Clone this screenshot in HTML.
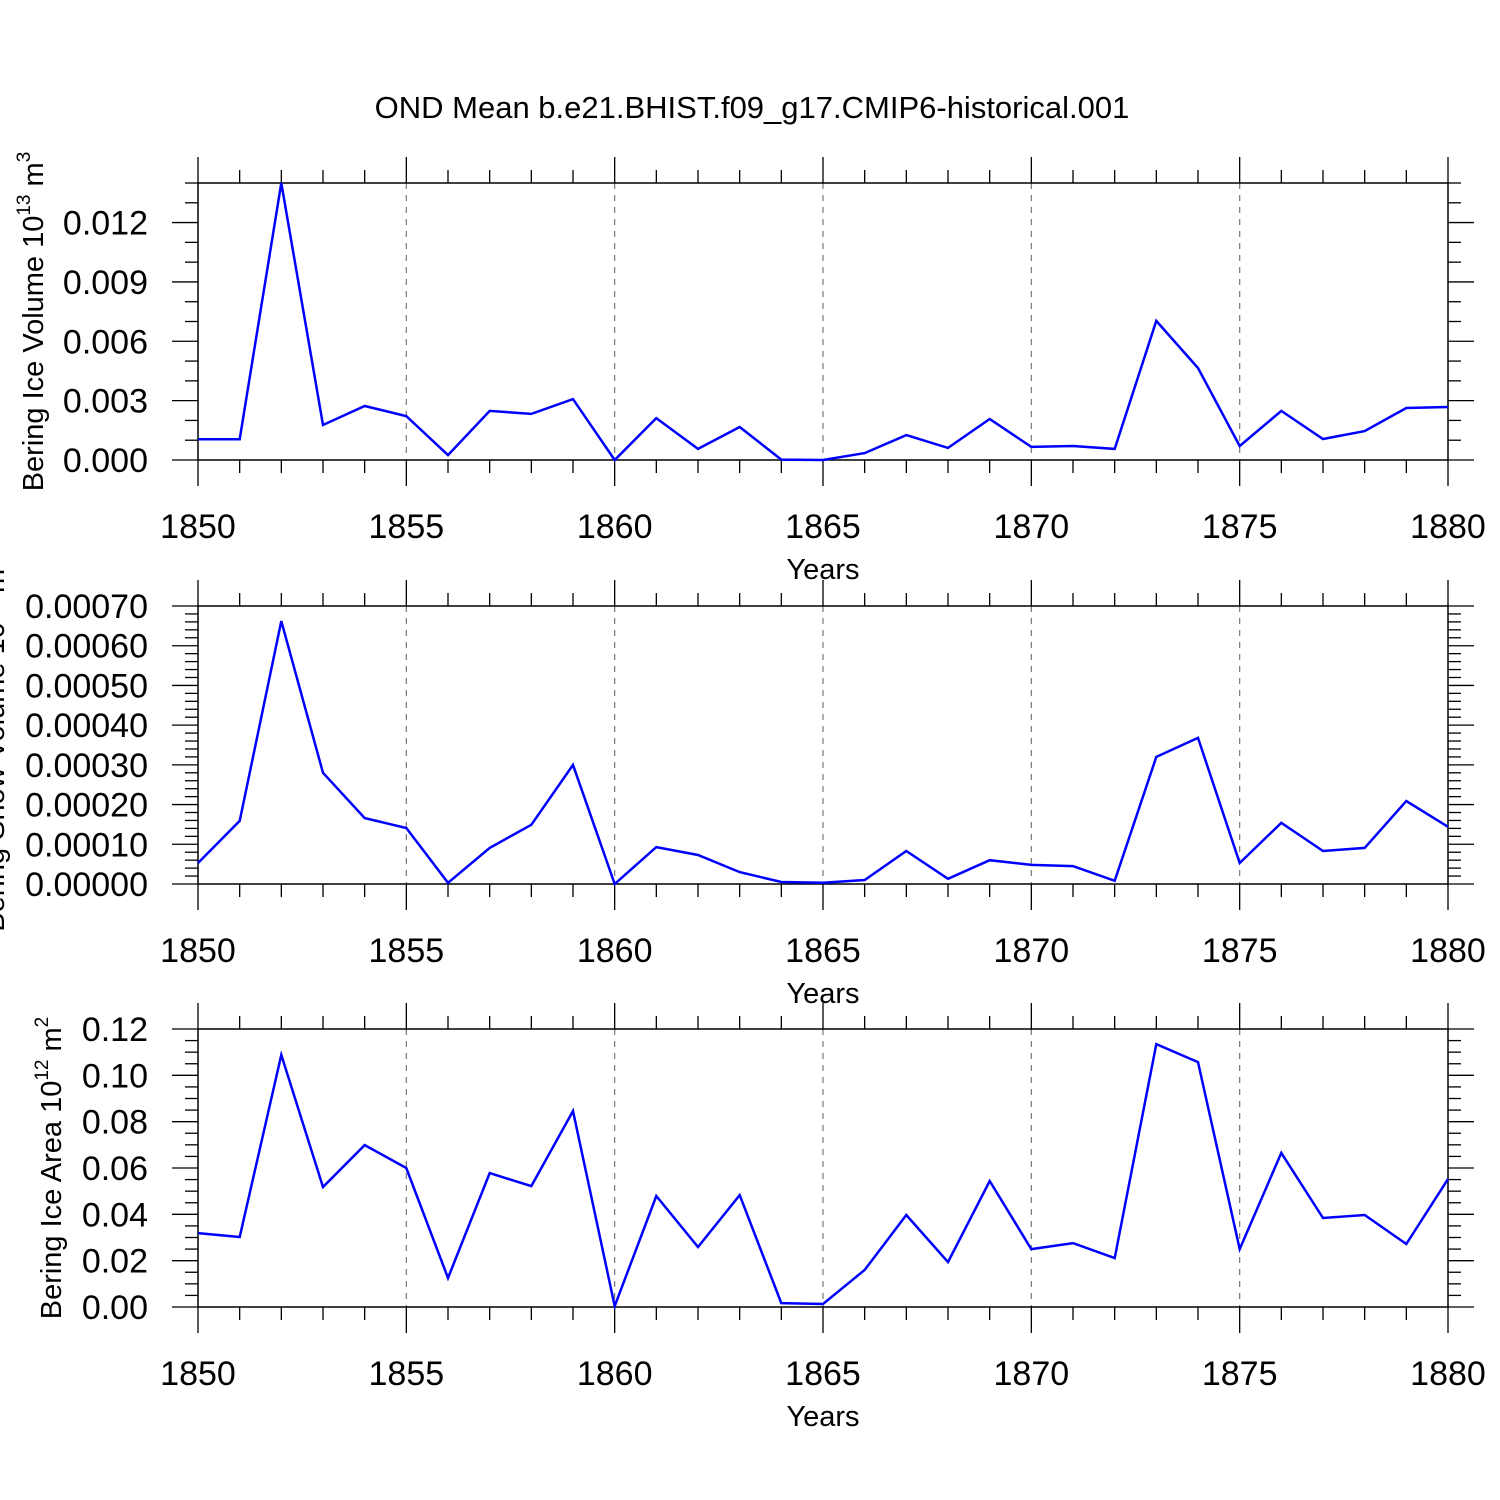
<!DOCTYPE html>
<html><head><meta charset="utf-8"><style>
html,body{margin:0;padding:0;background:#fff}
svg{display:block}
text{font-family:"Liberation Sans",sans-serif;fill:#000}
</style></head><body>
<svg id="c" width="1500" height="1500" viewBox="0 0 1500 1500">
<text x="752" y="118" font-size="31" text-anchor="middle">OND Mean b.e21.BHIST.f09_g17.CMIP6-historical.001</text>
</svg>
<script>
const years = [1850,1851,1852,1853,1854,1855,1856,1857,1858,1859,1860,1861,1862,1863,1864,1865,1866,1867,1868,1869,1870,1871,1872,1873,1874,1875,1876,1877,1878,1879,1880];
const iceVolume = [0.00105,0.00105,0.0140,0.00177,0.00273,0.00222,0.00025,0.00248,0.00233,0.00308,0.0,0.00212,0.00056,0.00167,0.00002,0.0,0.00035,0.00126,0.00061,0.00207,0.00066,0.00071,0.00056,0.00703,0.00465,0.00071,0.00248,0.00106,0.00146,0.00263,0.00268];
const snowVolume = [0.000053,0.000159,0.000662,0.00028,0.000166,0.000141,0.000003,0.000091,0.000149,0.0003,0.0,0.000093,0.000073,0.00003,0.000005,0.000003,0.00001,0.000083,0.000013,0.00006,0.000048,0.000045,0.000008,0.00032,0.000368,0.000053,0.000154,0.000083,0.000091,0.000209,0.000144];
const iceArea = [0.0319,0.0302,0.1088,0.0518,0.0699,0.06,0.0125,0.0578,0.0522,0.0846,0.0004,0.0479,0.0259,0.0483,0.0017,0.0013,0.016,0.0397,0.0194,0.0544,0.025,0.0276,0.0211,0.1135,0.1057,0.025,0.0665,0.0384,0.0397,0.0272,0.0552];
const xTickLabels = ["1850","1855","1860","1865","1870","1875","1880"];
const volTicks = ["0.000","0.003","0.006","0.009","0.012"];
const snowTicks = ["0.00000","0.00010","0.00020","0.00030","0.00040","0.00050","0.00060","0.00070"];
const areaTicks = ["0.00","0.02","0.04","0.06","0.08","0.10","0.12"];

const NS="http://www.w3.org/2000/svg";
const svg=document.getElementById('c');
function mk(tag,attrs,parent){const e=document.createElementNS(NS,tag);for(const k in attrs)e.setAttribute(k,attrs[k]);(parent||svg).appendChild(e);return e;}
const X0=198,X1=1448,XMIN=1850,XMAX=1880;
function xs(v){return X0+(v-XMIN)/(XMAX-XMIN)*(X1-X0);}

function panel(name,top,bot,ymax,ticks,minorStep,data,label,sup1,sup2,labelX){
  const g=mk('g',{});
  
  
  const ys=v=>bot-(v/ymax)*(bot-top);
  for(const t of xTickLabels){const v=+t;if(v===XMIN||v===XMAX)continue;
    const l=mk('line',{x1:xs(v),x2:xs(v),y1:top,y2:bot,stroke:'#777','stroke-width':1.2,'stroke-dasharray':'6,6'},g);
    }
  for(let y=XMIN;y<=XMAX;y++){const maj=(y%5===0);const L=maj?26:13;
    mk('line',{x1:xs(y),x2:xs(y),y1:top-L,y2:top,stroke:'#000','stroke-width':1.3},g);
    mk('line',{x1:xs(y),x2:xs(y),y1:bot,y2:bot+L,stroke:'#000','stroke-width':1.3},g);}
  const ymajStep=(+ticks[1]);
  const nMinor=Math.round(ymax/minorStep);
  for(let i=0;i<=nMinor;i++){const v=i*minorStep;const maj=Math.abs(v/ymajStep-Math.round(v/ymajStep))<1e-6;const L=maj?26:13;const y=ys(v);
    mk('line',{x1:X0-L,x2:X0,y1:y,y2:y,stroke:'#000','stroke-width':1.3},g);
    mk('line',{x1:X1,x2:X1+L,y1:y,y2:y,stroke:'#000','stroke-width':1.3},g);}
  mk('rect',{x:X0,y:top,width:X1-X0,height:bot-top,fill:'none',stroke:'#000','stroke-width':1.5},g);
  for(const t of ticks){const tx=mk('text',{x:148,y:ys(+t)+12,'font-size':34,'text-anchor':'end'},g);tx.textContent=t;
    }
  for(const t of xTickLabels){const tx=mk('text',{x:xs(+t),y:bot+78,'font-size':34,'text-anchor':'middle'},g);tx.textContent=t;
    }
  const xt=mk('text',{x:823,y:bot+119,'font-size':29,'text-anchor':'middle'},g);xt.textContent='Years';
  
  const yt=mk('text',{transform:`translate(${labelX},${(top+bot)/2}) rotate(-90)`,'font-size':29,'text-anchor':'middle'},g);
  
  yt.appendChild(document.createTextNode(label+' 10'));
  const s1=mk('tspan',{dy:-13,'font-size':19},yt);s1.textContent=sup1;
  const t2=mk('tspan',{dy:13},yt);t2.textContent=' m';
  const s2=mk('tspan',{dy:-13,'font-size':19},yt);s2.textContent=sup2;
  const pts=data.map((v,i)=>xs(years[i]).toFixed(1)+','+ys(v).toFixed(1)).join(' ');
  const pl=mk('polyline',{points:pts,fill:'none',stroke:'#0000ff','stroke-width':2.5,'stroke-linejoin':'miter'},g);
  
}
panel('ice-volume',183,460,0.014,volTicks,0.001,iceVolume,'Bering Ice Volume','13','3',43);
panel('snow-volume',606,884,0.0007,snowTicks,0.00002,snowVolume,'Bering Snow Volume','13','3',4);
panel('ice-area',1029,1307,0.12,areaTicks,0.005,iceArea,'Bering Ice Area','12','2',61);
</script>
</body></html>
